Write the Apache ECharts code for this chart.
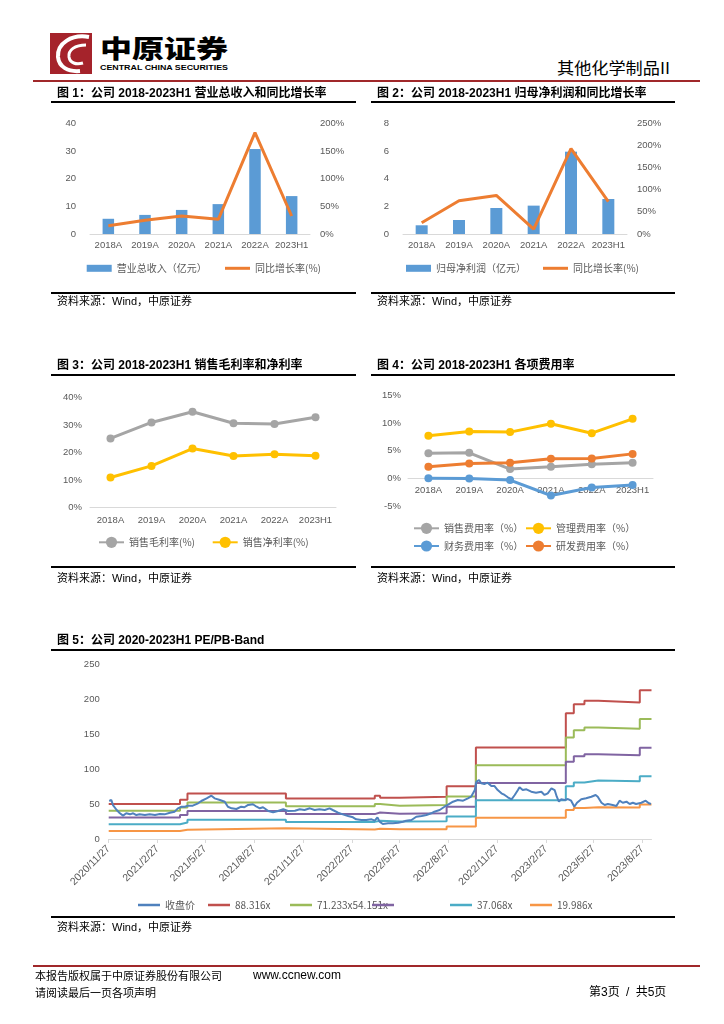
<!DOCTYPE html>
<html><head><meta charset="utf-8">
<script src="https://cdn.jsdelivr.net/npm/echarts@6/dist/echarts.min.js"></script>
<style>
html,body{margin:0;padding:0;background:#fff;}
#page{position:relative;width:724px;height:1024px;overflow:hidden;font-family:"Liberation Sans","Noto Sans CJK SC",sans-serif;}
#chart{position:absolute;left:0;top:0;width:724px;height:1024px;}
.t{position:absolute;white-space:nowrap;line-height:1;color:#000;}
.title{font-weight:bold;font-size:12px;}
.src{font-size:11px;}
.rule{position:absolute;height:2px;background:#000;}
</style></head>
<body><div id="page">
<svg style="position:absolute;left:0;top:0" width="724" height="100">
  <rect x="50" y="33" width="42" height="41" fill="#A5232B"/>
  <path d="M89 37 C72 34 57 43 58 57 C59 67 68 72 80 71" fill="none" stroke="#fff" stroke-width="4"/>
  <path d="M86 45 C75 45 68 50 69 57 C70 63 76 65 83 63" fill="none" stroke="#fff" stroke-width="3"/>
  <text x="100" y="58" font-size="25" font-weight="900" font-family="Noto Sans CJK SC" textLength="128" lengthAdjust="spacingAndGlyphs">中原证券</text>
  <text x="100" y="70" font-size="7" font-weight="bold" font-family="Liberation Sans" textLength="128" lengthAdjust="spacingAndGlyphs">CENTRAL CHINA SECURITIES</text>
  <text x="557" y="74" font-size="16" font-family="Noto Sans CJK SC" textLength="113" lengthAdjust="spacingAndGlyphs">其他化学制品II</text>
  <rect x="33" y="80" width="667" height="2" fill="#A0282A"/>
</svg>
<div id="chart"></div>

<div class="t title" style="left:57px;top:86.5px">图 1：公司 2018-2023H1 营业总收入和同比增长率</div>
<div class="t title" style="left:377px;top:86.5px">图 2：公司 2018-2023H1 归母净利润和同比增长率</div>
<div class="rule" style="left:51px;top:101px;width:305px"></div>
<div class="rule" style="left:371px;top:101px;width:304px"></div>
<div class="rule" style="left:51px;top:291.5px;width:305px"></div>
<div class="rule" style="left:371px;top:291.5px;width:304px"></div>
<div class="t src" style="left:57px;top:296px">资料来源：Wind，中原证券</div>
<div class="t src" style="left:377px;top:296px">资料来源：Wind，中原证券</div>

<div class="t title" style="left:57px;top:359px">图 3：公司 2018-2023H1 销售毛利率和净利率</div>
<div class="t title" style="left:377px;top:359px">图 4：公司 2018-2023H1 各项费用率</div>
<div class="rule" style="left:51px;top:374px;width:305px"></div>
<div class="rule" style="left:371px;top:374px;width:304px"></div>
<div class="rule" style="left:51px;top:566px;width:305px"></div>
<div class="rule" style="left:371px;top:566px;width:304px"></div>
<div class="t src" style="left:57px;top:572.5px">资料来源：Wind，中原证券</div>
<div class="t src" style="left:377px;top:572.5px">资料来源：Wind，中原证券</div>

<div class="t title" style="left:57px;top:634px">图 5：公司 2020-2023H1 PE/PB-Band</div>
<div class="rule" style="left:51px;top:649px;width:624px"></div>
<div class="rule" style="left:51px;top:916px;width:624px"></div>
<div class="t src" style="left:57px;top:922px">资料来源：Wind，中原证券</div>

<div style="position:absolute;left:33px;top:965px;width:667px;height:2px;background:#A0282A"></div>
<div class="t" style="left:35px;top:969.5px;font-size:11px;font-family:'Noto Sans CJK SC'">本报告版权属于中原证券股份有限公司</div>
<div class="t" style="left:253px;top:969px;font-size:12px;font-family:'Liberation Sans'">www.ccnew.com</div>
<div class="t" style="left:35px;top:986.5px;font-size:11px;font-family:'Noto Sans CJK SC'">请阅读最后一页各项声明</div>
<div class="t" style="left:589px;top:986px;font-size:12px;word-spacing:3px;font-family:'Liberation Sans','Noto Sans CJK SC'">第3页 / 共5页</div>
</div>

<script>
// ---- data ----
const categories = ['2018A','2019A','2020A','2021A','2022A','2023H1'];
const revenue = [5.5, 6.9, 8.7, 10.8, 30.7, 13.7];
const revenueYoY = [15, 25, 32.5, 26.5, 183, 32.5];
const netProfit = [0.63, 1.01, 1.88, 2.05, 5.95, 2.53];
const netProfitYoY = [25.5, 75, 87, 11, 193, 73];
const grossMargin = [25.2, 31.0, 34.9, 30.7, 30.4, 32.9];
const netMargin = [11.0, 15.2, 21.5, 18.8, 19.4, 18.9];
const sellingExp = [4.55, 4.65, 1.7, 2.1, 2.55, 2.85];
const adminExp = [7.75, 8.5, 8.4, 9.9, 8.2, 10.8];
const financeExp = [0.05, 0, -0.3, -3.1, -1.65, -1.2];
const rdExp = [2.1, 2.7, 2.85, 3.55, 3.6, 4.45];

const peTickLabels = ['2020/11/27','2021/2/27','2021/5/27','2021/8/27','2021/11/27','2022/2/27',
  '2022/5/27','2022/8/27','2022/11/27','2023/2/27','2023/5/27','2023/8/27'];

const priceDates = [
'2020-11-28','2020-12-02','2020-12-05','2020-12-12','2020-12-18','2020-12-24','2020-12-30',
'2021-01-06','2021-01-12','2021-01-18','2021-01-24','2021-02-03','2021-02-12','2021-02-22',
'2021-03-03','2021-03-12','2021-03-22','2021-03-31','2021-04-06','2021-04-13','2021-04-19','2021-04-25',
'2021-05-04','2021-05-14','2021-05-20','2021-05-30','2021-06-08','2021-06-14','2021-06-24',
'2021-07-03','2021-07-09','2021-07-16','2021-07-25','2021-08-03','2021-08-09','2021-08-16','2021-08-25',
'2021-09-01','2021-09-07','2021-09-13','2021-09-23','2021-10-02','2021-10-11','2021-10-21','2021-10-30',
'2021-11-12','2021-11-21','2021-11-30','2021-12-10','2021-12-19','2021-12-28',
'2022-01-07','2022-01-16','2022-01-22','2022-02-01','2022-02-10','2022-02-20','2022-03-01','2022-03-07','2022-03-17','2022-03-26',
'2022-04-05','2022-04-11','2022-04-16','2022-04-20','2022-04-26','2022-05-06','2022-05-15','2022-05-25',
'2022-06-03','2022-06-09','2022-06-19','2022-06-28','2022-07-08','2022-07-17','2022-07-26',
'2022-08-01','2022-08-11','2022-08-20','2022-08-26','2022-09-05','2022-09-14','2022-09-24',
'2022-10-03','2022-10-09','2022-10-16','2022-10-19','2022-10-24','2022-10-28','2022-11-03','2022-11-09','2022-11-16','2022-11-22','2022-11-28',
'2022-12-05','2022-12-11','2022-12-17','2022-12-24','2022-12-30',
'2023-01-05','2023-01-08','2023-01-14','2023-01-21','2023-01-30','2023-02-08','2023-02-18','2023-02-24',
'2023-03-02','2023-03-09','2023-03-15','2023-03-19','2023-03-23','2023-03-27',
'2023-04-03','2023-04-09','2023-04-15','2023-04-21','2023-04-26','2023-05-04','2023-05-13','2023-05-23','2023-05-31',
'2023-06-04','2023-06-11','2023-06-17','2023-06-23','2023-07-02','2023-07-09','2023-07-15','2023-07-21','2023-07-28',
'2023-08-03','2023-08-09','2023-08-15','2023-08-25','2023-09-02','2023-09-08','2023-09-12'
];
const priceClose = [
54.4,55.8,48.6,41.5,36.8,33.4,36.8,
35.3,36.8,34.3,35.3,34.3,35.3,34.3,
35.8,35.3,37.6,39.1,43.9,46.2,46.2,47.7,
47.7,51.1,54.4,58.2,62.0,58.2,55.8,
53.4,46.2,43.9,42.9,46.2,45.4,48.7,49.7,
46.2,43.9,45.4,40.1,38.2,40.1,42.5,40.1,
40.5,42.5,41.5,43.9,41.5,42.5,
41.5,43.9,41.5,37.6,35.3,32.9,31.0,28.2,27.2,27.2,
28.2,26.2,31.0,24.8,21.5,22.5,22.5,23.3,
24.8,26.2,27.2,31.9,32.9,34.3,36.8,
39.1,41.5,46.2,48.7,53.4,55.8,54.8,
58.2,60.5,70.1,82.0,84.4,79.7,78.7,80.6,75.8,75.8,70.1,
65.4,63.0,59.7,56.8,63.0,
70.1,74.0,70.1,71.1,67.7,66.3,67.7,63.0,
65.4,72.6,70.1,60.5,53.4,56.8,
55.8,57.2,54.8,46.2,51.9,56.8,58.2,60.5,63.0,
60.5,51.9,48.7,50.1,48.7,47.2,54.8,51.9,53.4,
50.1,51.9,50.1,51.9,54.8,51.1,50.0
];

const bandDates = ['2020-11-27','2021-04-10','2021-04-24','2021-10-26','2022-04-11','2022-04-21','2022-05-28',
  '2022-08-24','2022-10-18','2023-04-05','2023-04-20','2023-05-10','2023-06-05','2023-08-22','2023-09-13'];
const band88 = [50.0, 56.0, 65.0, 58.0, 62.0, 59.0, 60.3, 75.5, 131.0, 180.0, 193.0, 198.0, 195.5, 213.0, 213.0];
const band71 = [40.3, 45.2, 52.4, 46.8, 50.0, 47.6, 48.6, 60.9, 105.7, 145.2, 155.7, 159.7, 157.7, 171.8, 171.8];
const band54 = [30.7, 34.3, 39.9, 35.6, 38.0, 36.2, 37.0, 46.3, 80.3, 110.4, 118.3, 121.4, 119.9, 130.6, 130.6];
const band37 = [21.0, 23.5, 27.5, 24.5, 26.2, 25.0, 25.5, 32.2, 55.5, 75.5, 81.0, 83.8, 82.6, 89.8, 89.8];
const band19 = [11.6, 13.2, 15.5, 13.6, 14.5, 13.8, 14.1, 17.8, 30.3, 41.6, 44.5, 45.6, 45.0, 49.3, 49.3];

// ---- build ----
const P = s => +echarts.time.parse(s);
const pair = (xs, ys) => xs.slice(0, Math.min(xs.length, ys.length)).map((x, i) => [P(x), ys[i]]);
const lab = {color:'#595959', fontSize:9.5, fontFamily:"'Liberation Sans Narrow','Arial Narrow','Liberation Sans',sans-serif"};
const noLine = {show:false};
function catX(grid, extra) {
  return Object.assign({type:'category', gridIndex:grid, data:categories,
    axisLine:{lineStyle:{color:'#D9D9D9', width:1}}, axisTick:{show:false},
    axisLabel:Object.assign({}, lab, {margin:6, interval:0}), splitLine:noLine}, extra || {});
}
function valY(grid, min, max, step, extra, fmt, margin) {
  return Object.assign({type:'value', gridIndex:grid, min:min, max:max, interval:step,
    axisLine:noLine, axisTick:noLine, splitLine:noLine,
    axisLabel:Object.assign({}, lab, {margin:margin, formatter: fmt || '{value}'})}, extra || {});
}
function lg(name, left, cy, extra, icon) {
  return Object.assign({data:[icon ? {name:name, icon:icon} : name], left:left, top:cy - 7, padding:0,
    itemWidth:25, itemHeight:14, selectedMode:false,
    textStyle:{color:'#595959', fontSize:10, fontFamily:"'Noto Sans CJK SC'", lineHeight:14}}, extra || {});
}
function mline(name, x, y, data, color, sym) {
  return {type:'line', name:name, xAxisIndex:x, yAxisIndex:y, data:data,
    symbol: sym ? 'circle' : 'none', symbolSize:8, showSymbol: !!sym,
    lineStyle:{width:3, color:color}, itemStyle:{color:color}, z:3};
}
function band(name, data, color) {
  return {type:'line', name:name, xAxisIndex:4, yAxisIndex:6, step:'end', data:pair(bandDates, data),
    symbol:'none', showSymbol:false, lineStyle:{width:2, color:color}, itemStyle:{color:color}};
}

const tickTs = peTickLabels.map(P);
const fmtDate = v => { const d = new Date(v); return d.getFullYear() + '/' + (d.getMonth()+1) + '/' + d.getDate(); };
const L5 = {itemWidth:22, itemHeight:2.5};

const option = {
  animation:false,
  grid:[
    {left:90, top:123.3, width:220, height:110.7},
    {left:403, top:123.3, width:224, height:110.7},
    {left:90, top:397.7, width:246, height:110},
    {left:408, top:395.7, width:245, height:110.3},
    {left:108.7, top:664.3, width:542.8, height:174.7},
    // zero-line axis for chart 4 (category labels sit just under 0%)
    {left:408, top:395.7, width:245, height:82.7}
  ],
  xAxis:[
    catX(0), catX(1), catX(2, {axisLabel:Object.assign({}, lab, {margin:8, interval:0})}),
    catX(3, {axisLine:noLine, axisLabel:noLine}),
    {type:'value', gridIndex:4, min:P('2020-11-27'), max:P('2023-09-13'),
      axisLine:{lineStyle:{color:'#D9D9D9'}},
      axisTick:{show:true, length:4, lineStyle:{color:'#D9D9D9'}, customValues:tickTs},
      splitLine:noLine,
      axisLabel:Object.assign({}, lab, {fontSize:10.5, rotate:45, margin:8, customValues:tickTs, formatter: fmtDate})},
    catX(5, {axisLabel:Object.assign({}, lab, {margin:7, interval:0})})
  ],
  yAxis:[
    valY(0, 0, 40, 10, null, null, 14),
    valY(0, 0, 200, 50, {position:'right'}, '{value}%', 10),
    valY(1, 0, 8, 2, null, null, 14),
    valY(1, 0, 250, 50, {position:'right'}, '{value}%', 10),
    valY(2, 0, 40, 10, null, '{value}%', 8),
    valY(3, -5, 15, 5, null, '{value}%', 7),
    valY(4, 0, 250, 50, null, null, 9),
    {type:'value', gridIndex:5, show:false, min:0, max:15, interval:5}
  ],
  legend:[
    lg('营业总收入（亿元）', 86.7, 268.3, {itemHeight:7}, 'rect'),
    lg('同比增长率(%)', 225, 268.3, {itemHeight:3}, 'rect'),
    lg('归母净利润（亿元）', 406, 268.3, {itemHeight:7}, 'rect'),
    lg('同比增长率(%)', 543, 268.3, {itemHeight:3}, 'rect'),
    lg('销售毛利率(%)', 98, 542.3),
    lg('销售净利率(%)', 211.7, 542.3),
    lg('销售费用率（%）', 413, 528.3),
    lg('管理费用率（%）', 525, 528.3),
    lg('财务费用率（%）', 413, 546),
    lg('研发费用率（%）', 525, 546),
    lg('收盘价', 138, 905, L5, 'rect'),
    lg('88.316x', 208, 905, L5, 'rect'),
    lg('71.233x', 290, 905, Object.assign({formatter:'71.233x54.151x'}, L5), 'rect'),
    lg('54.151x', 372, 905, Object.assign({formatter:' '}, L5), 'rect'),
    lg('37.068x', 450, 905, L5, 'rect'),
    lg('19.986x', 530, 905, L5, 'rect')
  ],
  series:[
    {type:'bar', name:'营业总收入（亿元）', xAxisIndex:0, yAxisIndex:0, data:revenue, barWidth:11.5, itemStyle:{color:'#5B9BD5'}},
    mline('同比增长率(%)', 0, 1, revenueYoY, '#ED7D31', false),
    {type:'bar', name:'归母净利润（亿元）', xAxisIndex:1, yAxisIndex:2, data:netProfit, barWidth:12, itemStyle:{color:'#5B9BD5'}},
    mline('同比增长率(%)', 1, 3, netProfitYoY, '#ED7D31', false),
    mline('销售毛利率(%)', 2, 4, grossMargin, '#A5A5A5', true),
    mline('销售净利率(%)', 2, 4, netMargin, '#FFC000', true),
    mline('销售费用率（%）', 3, 5, sellingExp, '#A5A5A5', true),
    mline('管理费用率（%）', 3, 5, adminExp, '#FFC000', true),
    mline('财务费用率（%）', 3, 5, financeExp, '#5B9BD5', true),
    mline('研发费用率（%）', 3, 5, rdExp, '#ED7D31', true),
    band('88.316x', band88, '#C0504D'),
    band('71.233x', band71, '#9BBB59'),
    band('54.151x', band54, '#8064A2'),
    band('37.068x', band37, '#4BACC6'),
    band('19.986x', band19, '#F79646'),
    {type:'line', name:'收盘价', xAxisIndex:4, yAxisIndex:6, data:pair(priceDates, priceClose),
      symbol:'none', showSymbol:false, lineStyle:{width:2, color:'#4F81BD'}, itemStyle:{color:'#4F81BD'}, z:5}
  ]
};
const chart = echarts.init(document.getElementById('chart'), null, {renderer:'canvas'});
chart.setOption(option);
</script>
</body></html>
